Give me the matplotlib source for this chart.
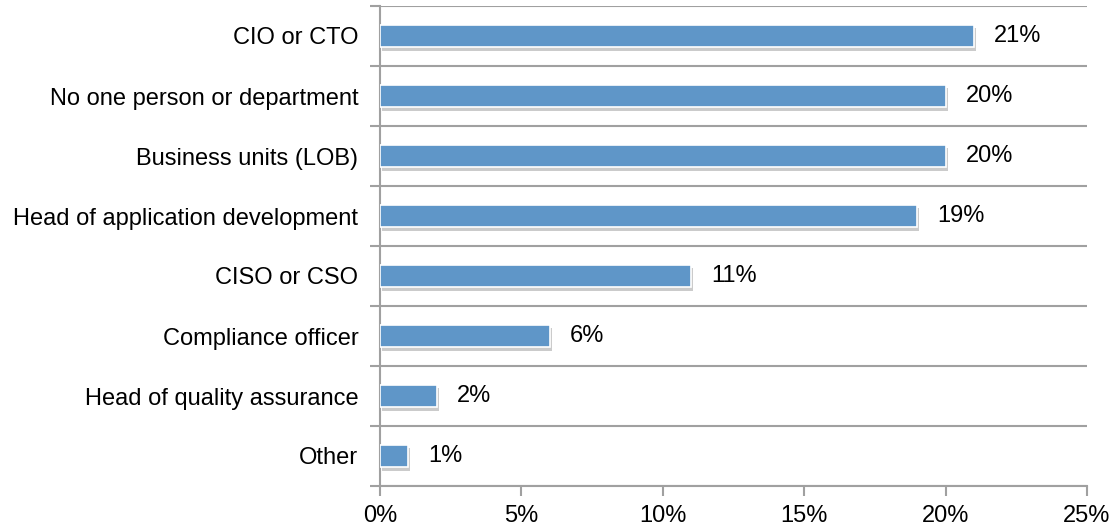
import numpy as np
import matplotlib.pyplot as plt
import matplotlib.patheffects as pe

categories = ["CIO or CTO", "No one person or department", "Business units (LOB)",
              "Head of application development", "CISO or CSO", "Compliance officer",
              "Head of quality assurance", "Other"]
values = [21, 20, 20, 19, 11, 6, 2, 1]
xticks = [0, 5, 10, 15, 20, 25]

plt.rcParams['font.family'] = ['Liberation Sans', 'DejaVu Sans']
fs = 17

fig = plt.figure(figsize=(11.13, 5.29), dpi=100)
ax = fig.add_axes([380 / 1113, 43 / 529, 707 / 1113, 480 / 529])

n = len(categories)
ypos = np.arange(n)[::-1]
bars = ax.barh(ypos, values, height=0.37, color='#5F96C8', edgecolor='white', linewidth=1.2, zorder=3)
for b in bars:
    b.set_path_effects([pe.SimplePatchShadow(offset=(1.5, -2.5), shadow_rgbFace='#999999', alpha=0.5), pe.Normal()])

for y, v in zip(ypos, values):
    ax.text(v + 0.72, y, f"{v}%", va='center', ha='left', fontsize=fs, color='black')

ax.set_xlim(0, 25)
ax.set_ylim(-0.5, n - 0.5)
ax.set_xticks(xticks)
ax.set_xticklabels([f"{t}%" for t in xticks], fontsize=fs)
ax.set_yticks(ypos)
ax.set_yticklabels(categories, fontsize=fs)
ax.tick_params(axis='y', which='major', length=0, pad=15.5)
ax.set_yticks(np.arange(n + 1) - 0.5, minor=True)
ax.tick_params(axis='y', which='minor', length=7, width=1.5, color='#A0A0A0')
ax.tick_params(axis='x', length=7, width=1.5, color='#A0A0A0', pad=7)
ax.grid(axis='y', which='minor', color='#A0A0A0', linewidth=1.5, zorder=0)

for s in ['top', 'right']:
    ax.spines[s].set_visible(False)
ax.spines['left'].set_color('#A0A0A0')
ax.spines['left'].set_linewidth(1.5)
ax.spines['bottom'].set_color('#A0A0A0')
ax.spines['bottom'].set_linewidth(1.5)

fig.savefig("out.png", dpi=100)
